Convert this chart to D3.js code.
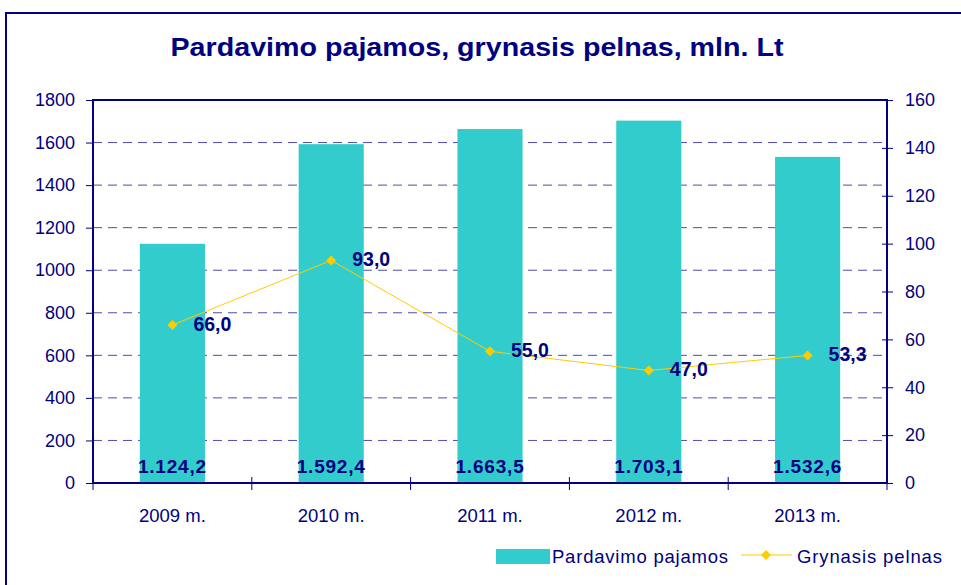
<!DOCTYPE html>
<html>
<head>
<meta charset="utf-8">
<title>Pardavimo pajamos, grynasis pelnas</title>
<script src="https://cdn.jsdelivr.net/npm/d3@7/dist/d3.min.js"></script>
<style>
  body { margin: 0; background: #fff; }
  text { font-family: "Liberation Sans", Arial, sans-serif; fill: #000080; }
</style>
</head>
<body>
<script>
  // chart data
  var years = ["2009 m.", "2010 m.", "2011 m.", "2012 m.", "2013 m."];
  var sales = [1124.2, 1592.4, 1663.5, 1703.1, 1532.6];
  var profit = [66.0, 93.0, 55.0, 47.0, 53.3];
  var leftTicks = [0, 200, 400, 600, 800, 1000, 1200, 1400, 1600, 1800];
  var rightTicks = [0, 20, 40, 60, 80, 100, 120, 140, 160];

  var width = 961, height = 585;
  var margin = {top: 100, right: 74, bottom: 102, left: 93};
  var navy = "#000080";
  var font = "'Liberation Sans', Arial, sans-serif";

  var svg = d3.select("body").append("svg")
    .attr("width", width).attr("height", height);

  // outer frame
  svg.append("rect")
    .attr("x", 6).attr("y", 13)
    .attr("width", 970).attr("height", 600)
    .attr("fill", "none").attr("stroke", navy).attr("stroke-width", 2);

  svg.append("text")
    .attr("x", 477).attr("y", 56)
    .attr("text-anchor", "middle")
    .attr("font-size", 25).attr("font-weight", "bold")
    .attr("textLength", 613).attr("lengthAdjust", "spacingAndGlyphs")
    .text("Pardavimo pajamos, grynasis pelnas, mln. Lt");

  var x0 = margin.left, x1 = width - margin.right;
  var y0 = height - margin.bottom, y1 = margin.top;

  var x = d3.scaleBand().domain(years).range([x0, x1]);
  var yL = d3.scaleLinear().domain([0, 1800]).range([y0, y1]);
  var yR = d3.scaleLinear().domain([0, 160]).range([y0, y1]);

  // grid
  svg.append("g").selectAll("line")
    .data(leftTicks.slice(1, -1))
    .enter().append("line")
    .attr("x1", x0).attr("x2", x1)
    .attr("y1", d => yL(d)).attr("y2", d => yL(d))
    .attr("stroke", navy).attr("stroke-opacity", 0.7)
    .attr("stroke-dasharray", "9,6");

  // bars
  var bw = x.bandwidth() * 0.41;
  svg.append("g").selectAll("rect")
    .data(sales)
    .enter().append("rect")
    .attr("x", (d, i) => x(years[i]) + x.bandwidth() / 2 - bw / 2)
    .attr("y", d => yL(d))
    .attr("width", bw)
    .attr("height", d => y0 - yL(d))
    .attr("fill", "#33CCCC");

  // plot border top/left/right
  svg.append("path")
    .attr("d", "M" + x0 + "," + y0 + "V" + y1 + "H" + x1 + "V" + y0)
    .attr("fill", "none").attr("stroke", navy).attr("stroke-width", 2);

  // left axis
  var axL = svg.append("g").attr("transform", "translate(" + x0 + ",0)")
    .call(d3.axisLeft(yL).tickValues(leftTicks).tickFormat(d3.format("d")).tickSize(7).tickPadding(11));
  axL.select(".domain").remove();
  axL.selectAll("line").attr("stroke", navy);
  axL.selectAll("text").attr("font-size", 18).attr("fill", navy).style("font-family", font);

  // right axis
  var axR = svg.append("g").attr("transform", "translate(" + x1 + ",0)")
    .call(d3.axisRight(yR).tickValues(rightTicks).tickSize(6).tickPadding(12));
  axR.select(".domain").remove();
  axR.selectAll("line").attr("x1", -5).attr("stroke", navy);
  axR.selectAll("text").attr("font-size", 18).attr("fill", navy).style("font-family", font);

  // bottom axis
  svg.append("line")
    .attr("x1", x0).attr("x2", x1).attr("y1", y0).attr("y2", y0)
    .attr("stroke", navy).attr("stroke-width", 2);
  var sep = d3.range(years.length + 1).map(i => x0 + i * x.step());
  svg.append("g").selectAll("line")
    .data(sep).enter().append("line")
    .attr("x1", d => d).attr("x2", d => d)
    .attr("y1", y0 - 6).attr("y2", y0 + 7)
    .attr("stroke", navy);
  svg.append("g").selectAll("text")
    .data(years).enter().append("text")
    .attr("x", d => x(d) + x.bandwidth() / 2)
    .attr("y", y0 + 39)
    .attr("text-anchor", "middle")
    .attr("font-size", 18.5)
    .text(d => d);

  // bar labels
  var fmt = d => d3.format(",.1f")(d).replace(/,/g, "#").replace(".", ",").replace(/#/g, ".");
  svg.append("g").selectAll("text")
    .data(sales).enter().append("text")
    .attr("x", (d, i) => x(years[i]) + x.bandwidth() / 2)
    .attr("y", y0 - 10)
    .attr("text-anchor", "middle")
    .attr("font-size", 19).attr("font-weight", "bold")
    .attr("letter-spacing", 0.8)
    .text(fmt);

  // profit line
  var cx = (d, i) => x(years[i]) + x.bandwidth() / 2;
  svg.append("path")
    .datum(profit)
    .attr("d", d3.line().x(cx).y(d => yR(d)))
    .attr("fill", "none").attr("stroke", "#FFCC00").attr("stroke-width", 1);
  svg.append("g").selectAll("path")
    .data(profit).enter().append("path")
    .attr("d", d3.symbol().type(d3.symbolSquare).size(50))
    .attr("transform", (d, i) => "translate(" + cx(d, i) + "," + yR(d) + ") rotate(45)")
    .attr("fill", "#FFCC00");
  svg.append("g").selectAll("text")
    .data(profit).enter().append("text")
    .attr("x", (d, i) => cx(d, i) + 21)
    .attr("y", d => yR(d) + 6)
    .attr("font-size", 19.5).attr("font-weight", "bold")
    .text(d => d.toFixed(1).replace(".", ","));

  // legend
  var lg = svg.append("g");
  lg.append("rect").attr("x", 496).attr("y", 549).attr("width", 54).attr("height", 15)
    .attr("fill", "#33CCCC");
  lg.append("text").attr("x", 552).attr("y", 563).attr("font-size", 18.5)
    .attr("textLength", 176).attr("lengthAdjust", "spacing")
    .text("Pardavimo pajamos");
  lg.append("line").attr("x1", 741).attr("x2", 792).attr("y1", 555).attr("y2", 555)
    .attr("stroke", "#FFCC00");
  lg.append("path")
    .attr("d", d3.symbol().type(d3.symbolSquare).size(50))
    .attr("transform", "translate(766,555) rotate(45)")
    .attr("fill", "#FFCC00");
  lg.append("text").attr("x", 797).attr("y", 563).attr("font-size", 18.5)
    .attr("textLength", 145).attr("lengthAdjust", "spacing")
    .text("Grynasis pelnas");
</script>
</body>
</html>
